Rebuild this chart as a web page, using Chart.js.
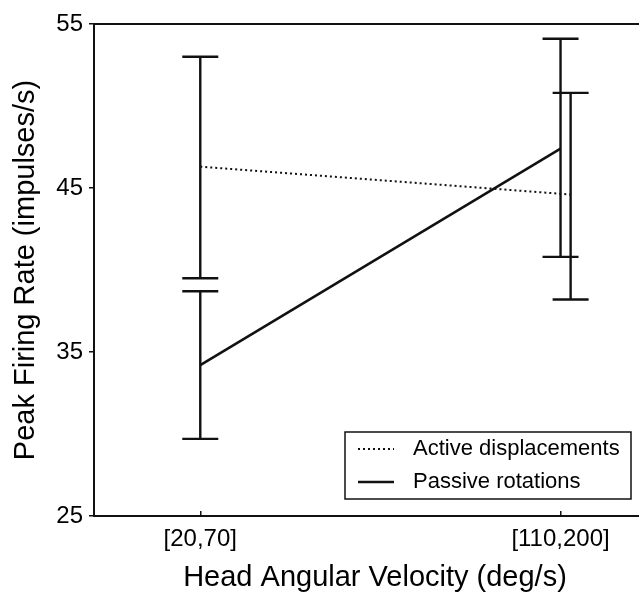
<!DOCTYPE html>
<html>
<head>
<meta charset="utf-8">
<script src="https://cdn.jsdelivr.net/npm/chart.js@4/dist/chart.umd.min.js"></script>
<style>
  html, body { margin: 0; padding: 0; background: #fff; overflow: hidden; }
  #wrap { width: 639px; height: 595px; overflow: hidden; position: relative; }
  canvas { display: block; }
</style>
</head>
<body>
<div id="wrap"><canvas id="c" width="656" height="595"></canvas></div>
<script>
// ---- data ----
const categories = ['[20,70]', '[110,200]'];
const yTicks = [25, 35, 45, 55];

const activeMean = [46.3, 44.6];
const activeLow  = [39.5, 38.2];
const activeHigh = [53.0, 50.8];

const passiveMean = [34.2, 47.4];
const passiveLow  = [29.7, 40.8];
const passiveHigh = [38.7, 54.1];

const seriesLabels = ['Active displacements', 'Passive rotations'];

// ---- build datasets ----
function pts(means, dodge) {
  return means.map((m, i) => ({ x: i + 1 + dodge[i], y: m }));
}

const FONT = "'Liberation Sans', Arial, Helvetica, sans-serif";

const errorBars = {
  id: 'errorBars',
  afterDatasetsDraw(chart) {
    const ctx = chart.ctx;
    const ys = chart.scales.y, xs = chart.scales.x;
    chart.data.datasets.forEach((ds) => {
      ctx.save();
      ctx.strokeStyle = '#111';
      ctx.lineWidth = 2.4;
      ds.data.forEach((p, i) => {
        const px = xs.getPixelForValue(p.x);
        const yl = ys.getPixelForValue(ds.errLow[i]);
        const yh = ys.getPixelForValue(ds.errHigh[i]);
        const cw = ds.capHalf;
        ctx.beginPath();
        ctx.moveTo(px, yl); ctx.lineTo(px, yh);
        ctx.moveTo(px - cw, yl); ctx.lineTo(px + cw, yl);
        ctx.moveTo(px - cw, yh); ctx.lineTo(px + cw, yh);
        ctx.stroke();
      });
      ctx.restore();
    });
  }
};

const boxLegend = {
  id: 'boxLegend',
  afterDraw(chart) {
    const ctx = chart.ctx, ca = chart.chartArea;
    const w = 286, h = 67;
    const right = ca.right - 25, bottom = ca.bottom - 17;
    const left = right - w, top = bottom - h;
    ctx.save();
    ctx.fillStyle = '#fff';
    ctx.fillRect(left, top, w, h);
    ctx.strokeStyle = '#111';
    ctx.lineWidth = 1.5;
    ctx.strokeRect(left, top, w, h);
    chart.data.datasets.forEach((ds, i) => {
      const yy = top + 17 + i * 33;
      ctx.beginPath();
      ctx.setLineDash(ds.borderDash || []);
      ctx.lineWidth = ds.borderWidth;
      ctx.strokeStyle = ds.borderColor;
      ctx.moveTo(left + 13, yy); ctx.lineTo(left + 49, yy);
      ctx.stroke();
      ctx.setLineDash([]);
      ctx.fillStyle = '#000';
      ctx.font = '22px ' + FONT;
      ctx.textBaseline = 'middle';
      ctx.textAlign = 'left';
      ctx.fillText(ds.label, left + 68, yy);
    });
    ctx.restore();
  }
};

new Chart(document.getElementById('c'), {
  type: 'line',
  data: {
    datasets: [
      {
        label: seriesLabels[0],
        data: pts(activeMean, [0, 0.028]),
        errLow: activeLow, errHigh: activeHigh, capHalf: 18,
        borderColor: '#111', borderWidth: 2, borderDash: [2, 3],
        pointRadius: 0, fill: false, tension: 0
      },
      {
        label: seriesLabels[1],
        data: pts(passiveMean, [0, 0]),
        errLow: passiveLow, errHigh: passiveHigh, capHalf: 18,
        borderColor: '#111', borderWidth: 2.5,
        pointRadius: 0, fill: false, tension: 0
      }
    ]
  },
  options: {
    responsive: false,
    animation: false,
    events: [],
    layout: { padding: 0 },
    plugins: { legend: { display: false }, tooltip: { enabled: false } },
    scales: {
      x: {
        type: 'linear',
        position: 'bottom',
        min: 0.705, max: 2.265,
        afterBuildTicks: (s) => { s.ticks = categories.map((c, i) => ({ value: i + 1 })); },
        afterFit: (s) => { s.height = 79; },
        ticks: {
          autoSkip: false,
          padding: 14,
          color: '#000',
          font: { family: FONT, size: 24 },
          callback: (v) => categories[Math.round(v) - 1] || ''
        },
        grid: { drawOnChartArea: false, drawTicks: true, tickLength: -5, tickColor: '#111', lineWidth: 1.5 },
        border: { display: true, color: '#111', width: 2 },
        title: {
          display: true, text: 'Head Angular Velocity (deg/s)', color: '#000',
          font: { family: FONT, size: 29 }, padding: { top: 0, bottom: 0 }
        }
      },
      xTop: {
        type: 'linear',
        position: 'top',
        min: 0.705, max: 2.265,
        afterFit: (s) => { s.height = 24; },
        ticks: { display: false },
        grid: { display: false, drawTicks: false },
        border: { display: true, color: '#111', width: 2 }
      },
      y: {
        type: 'linear',
        position: 'left',
        min: 25, max: 55,
        afterBuildTicks: (s) => { s.ticks = yTicks.map(v => ({ value: v })); },
        afterFit: (s) => { s.width = 94; },
        ticks: { padding: 6, color: '#000', font: { family: FONT, size: 24 } },
        grid: { drawOnChartArea: false, drawTicks: true, tickLength: 5, tickColor: '#111', lineWidth: 1.5 },
        border: { display: true, color: '#111', width: 2 },
        title: {
          display: true, text: 'Peak Firing Rate (impulses/s)', color: '#000',
          font: { family: FONT, size: 29 }, padding: { top: 9, bottom: 0 }
        }
      }
    }
  },
  plugins: [errorBars, boxLegend]
});
</script>
</body>
</html>
